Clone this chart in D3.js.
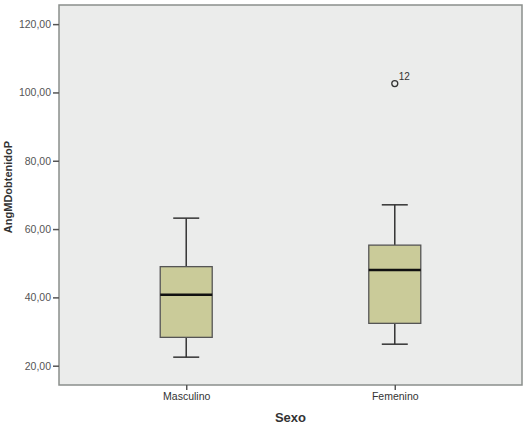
<!DOCTYPE html>
<meta charset="utf-8">
<style>
body { margin: 0; background: #fff; }
text { font-family: Arial, "Liberation Sans", sans-serif; }
</style>
<script src="https://cdn.jsdelivr.net/npm/d3@7"></script>
<body>
<script>

var categories = ["Masculino", "Femenino"];
var lowWhisker = [22.5, 26.3];
var q1 = [28.3, 32.4];
var median = [40.8, 48.0];
var q3 = [49.0, 55.3];
var highWhisker = [63.2, 67.1];
var outliers = [{ cat: "Femenino", value: 102.6, label: "12" }];
var yTicks = [20, 40, 60, 80, 100, 120];

var width = 527,
    height = 430;

// plot frame (don't use "top" - it clashes with window.top)
var plotL = 59, plotR = 522, plotT = 5, plotB = 385;

var svg = d3.select("body")
              .append("svg")
              .attr("width", width)
              .attr("height", height);

var x = d3.scalePoint()
            .domain(categories)
            .range([plotL, plotR])
            .padding(0.61);

var y = d3.scaleLinear()
            .domain([14.35, 125.6])
            .range([plotB, plotT]);

// plot background + frame
svg.append("rect")
  .attr("x", plotL)
  .attr("y", plotT)
  .attr("width", plotR - plotL)
  .attr("height", plotB - plotT)
  .attr("fill", "#ebeceb")
  .attr("stroke", "#8a8f8c")
  .attr("stroke-width", 1.5);

var yAxis = svg.append("g")
  .attr("transform", "translate(" + plotL + ",0)")
  .call(d3.axisLeft(y).tickValues(yTicks).tickSize(6).tickPadding(2)
          .tickFormat(function (d) { return d3.format(".2f")(d).replace(".", ","); }));
yAxis.select(".domain").remove();
yAxis.selectAll("line").attr("stroke", "#555").attr("stroke-width", 1.5);
yAxis.selectAll("text").attr("fill", "#555").attr("font-size", "10.5px");

var xAxis = svg.append("g")
  .attr("transform", "translate(0," + plotB + ")")
  .call(d3.axisBottom(x).tickSize(5).tickPadding(3));
xAxis.select(".domain").remove();
xAxis.selectAll("line").attr("stroke", "#555").attr("stroke-width", 1.5);
xAxis.selectAll("text").attr("fill", "#333").attr("font-size", "10.5px");

var boxW = 52, capW = 26;

var boxes = svg.selectAll(".box")
  .data(categories)
  .enter()
    .append("g")
      .attr("class", "box");

// whiskers
boxes.append("line")
  .attr("x1", function (d) { return x(d); })
  .attr("x2", function (d) { return x(d); })
  .attr("y1", function (d, i) { return y(highWhisker[i]); })
  .attr("y2", function (d, i) { return y(q3[i]); })
  .attr("stroke", "#333").attr("stroke-width", 1.5);
boxes.append("line")
  .attr("x1", function (d) { return x(d); })
  .attr("x2", function (d) { return x(d); })
  .attr("y1", function (d, i) { return y(q1[i]); })
  .attr("y2", function (d, i) { return y(lowWhisker[i]); })
  .attr("stroke", "#333").attr("stroke-width", 1.5);
boxes.append("line")
  .attr("x1", function (d) { return x(d) - capW / 2; })
  .attr("x2", function (d) { return x(d) + capW / 2; })
  .attr("y1", function (d, i) { return y(highWhisker[i]); })
  .attr("y2", function (d, i) { return y(highWhisker[i]); })
  .attr("stroke", "#333").attr("stroke-width", 1.5);
boxes.append("line")
  .attr("x1", function (d) { return x(d) - capW / 2; })
  .attr("x2", function (d) { return x(d) + capW / 2; })
  .attr("y1", function (d, i) { return y(lowWhisker[i]); })
  .attr("y2", function (d, i) { return y(lowWhisker[i]); })
  .attr("stroke", "#333").attr("stroke-width", 1.5);

boxes.append("rect")
  .attr("x", function (d) { return x(d) - boxW / 2; })
  .attr("y", function (d, i) { return y(q3[i]); })
  .attr("width", boxW)
  .attr("height", function (d, i) { return y(q1[i]) - y(q3[i]); })
  .attr("fill", "#cacb99")
  .attr("stroke", "#555")
  .attr("stroke-width", 1.3);

boxes.append("line")
  .attr("x1", function (d) { return x(d) - boxW / 2; })
  .attr("x2", function (d) { return x(d) + boxW / 2; })
  .attr("y1", function (d, i) { return y(median[i]); })
  .attr("y2", function (d, i) { return y(median[i]); })
  .attr("stroke", "#111").attr("stroke-width", 2.5);

// outliers
svg.selectAll(".outlier")
  .data(outliers)
  .enter()
    .append("circle")
      .attr("class", "outlier")
      .attr("cx", function (d) { return x(d.cat); })
      .attr("cy", function (d) { return y(d.value); })
      .attr("r", 3)
      .attr("fill", "none")
      .attr("stroke", "#333")
      .attr("stroke-width", 1.3);
svg.selectAll(".outlier-label")
  .data(outliers)
  .enter()
    .append("text")
      .attr("x", function (d) { return x(d.cat) + 4; })
      .attr("y", function (d) { return y(d.value) - 4; })
      .attr("font-size", "10px")
      .attr("fill", "#333")
      .text(function (d) { return d.label; });

// axis titles
svg.append("text")
  .attr("x", (plotL + plotR) / 2)
  .attr("y", 422)
  .attr("text-anchor", "middle")
  .attr("font-size", "13px")
  .attr("font-weight", "bold")
  .attr("fill", "#333")
  .text("Sexo");

svg.append("text")
  .attr("transform", "translate(12," + 187 + ") rotate(-90)")
  .attr("text-anchor", "middle")
  .attr("font-size", "11px")
  .attr("font-weight", "bold")
  .attr("fill", "#333")
  .text("AngMDobtenidoP");

</script>
</body>
